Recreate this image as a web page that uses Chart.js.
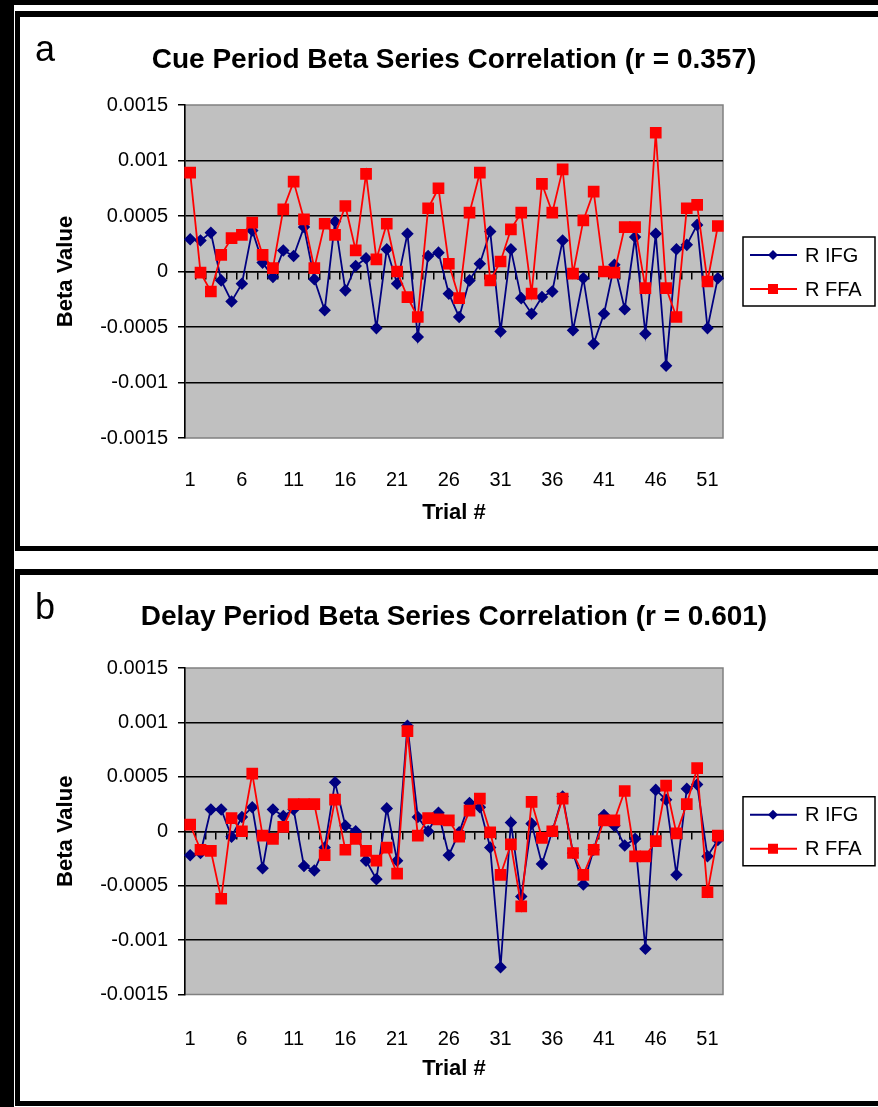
<!DOCTYPE html>
<html>
<head>
<meta charset="utf-8">
<title>Beta Series Correlation</title>
<script src="https://cdn.jsdelivr.net/npm/chart.js@4"></script>
<style>
  html, body { margin: 0; padding: 0; background: #fff; }
  body { width: 878px; height: 1107px; position: relative; overflow: hidden; font-family: "Liberation Sans", Arial, sans-serif; }
  .strip-left { position: absolute; left: 0; top: 0; width: 14px; height: 1107px; background: #000; }
  .strip-top { position: absolute; left: 0; top: 0; width: 878px; height: 5px; background: #000; }
  .panel { position: absolute; left: 15px; width: 1000px; border: 5px solid #000; border-top-width: 6px; background: #fff; }
  #panelA { top: 11px; height: 529px; }
  #panelB { top: 569px; height: 526px; }
  .panel canvas { position: absolute; left: 0; top: 0; }
  .tag { position: absolute; left: 15px; top: 14px; font-size: 36px; line-height: 36px; color: #000; }
</style>
</head>
<body>
<div class="strip-left"></div>
<div class="strip-top"></div>
<div class="panel" id="panelA">
  <canvas id="cueChart" width="858" height="529"></canvas>
  <div class="tag">a</div>
</div>
<div class="panel" id="panelB">
  <canvas id="delayChart" width="858" height="526"></canvas>
  <div class="tag">b</div>
</div>
<script>
const trials = ["1","2","3","4","5","6","7","8","9","10","11","12","13","14","15","16","17","18","19","20",
  "21","22","23","24","25","26","27","28","29","30","31","32","33","34","35","36","37","38","39","40",
  "41","42","43","44","45","46","47","48","49","50","51","52"];
const xTickLabels = ["1","6","11","16","21","26","31","36","41","46","51"];

// cue period betas
const cueIFG = [0.00029, 0.00028, 0.00035, -0.00008, -0.00027, -0.00011, 0.00037, 0.00008, -0.00005, 0.00019,
  0.00014, 0.00040, -0.00007, -0.00035, 0.00045, -0.00017, 0.00005, 0.00012, -0.00051, 0.00020,
  -0.00011, 0.00034, -0.00059, 0.00014, 0.00017, -0.00020, -0.00041, -0.00008, 0.00007, 0.00036,
  -0.00054, 0.00020, -0.00024, -0.00038, -0.00023, -0.00018, 0.00028, -0.00053, -0.00006, -0.00065,
  -0.00038, 0.00006, -0.00034, 0.00031, -0.00056, 0.00034, -0.00085, 0.00020, 0.00024, 0.00042,
  -0.00051, -0.00006];
const cueFFA = [0.00089, -0.00001, -0.00018, 0.00015, 0.00030, 0.00033, 0.00044, 0.00015, 0.00003, 0.00056,
  0.00081, 0.00047, 0.00003, 0.00043, 0.00033, 0.00059, 0.00019, 0.00088, 0.00011, 0.00043,
  0.00000, -0.00023, -0.00041, 0.00057, 0.00075, 0.00007, -0.00024, 0.00053, 0.00089, -0.00008,
  0.00009, 0.00038, 0.00053, -0.00020, 0.00079, 0.00053, 0.00092, -0.00002, 0.00046, 0.00072,
  0.00000, -0.00001, 0.00040, 0.00040, -0.00015, 0.00125, -0.00015, -0.00041, 0.00057, 0.00060,
  -0.00009, 0.00041];

// delay period betas
const delayIFG = [-0.00022, -0.00020, 0.00020, 0.00020, -0.00005, 0.00013, 0.00022, -0.00034, 0.00020, 0.00014,
  0.00020, -0.00032, -0.00036, -0.00015, 0.00045, 0.00005, 0.00000, -0.00027, -0.00044, 0.00021,
  -0.00027, 0.00097, 0.00013, 0.00000, 0.00017, -0.00022, -0.00001, 0.00026, 0.00022, -0.00015,
  -0.00125, 0.00008, -0.00060, 0.00007, -0.00030, 0.00000, 0.00032, -0.00020, -0.00049, -0.00017,
  0.00015, 0.00005, -0.00013, -0.00007, -0.00108, 0.00038, 0.00029, -0.00040, 0.00039, 0.00043,
  -0.00023, -0.00008];
const delayFFA = [0.00006, -0.00017, -0.00018, -0.00062, 0.00012, 0.00000, 0.00053, -0.00004, -0.00007, 0.00004,
  0.00025, 0.00025, 0.00025, -0.00022, 0.00029, -0.00017, -0.00007, -0.00018, -0.00027, -0.00015,
  -0.00039, 0.00092, -0.00004, 0.00012, 0.00011, 0.00010, -0.00005, 0.00019, 0.00030, -0.00001,
  -0.00040, -0.00012, -0.00069, 0.00027, -0.00006, 0.00000, 0.00030, -0.00020, -0.00040, -0.00017,
  0.00010, 0.00010, 0.00037, -0.00023, -0.00023, -0.00009, 0.00042, -0.00002, 0.00025, 0.00058,
  -0.00056, -0.00004];

const ifgColor = "#000080";
const ffaColor = "#ff0000";
const plotFill = "#c0c0c0";
const frameColor = "#808080";
const fontFamily = '"Liberation Sans", Arial, sans-serif';

Chart.defaults.font.family = fontFamily;
Chart.defaults.color = "#000";

// grey plot area with its thin frame
const plotFrame = {
  id: "plotFrame",
  beforeDraw(chart) {
    const { ctx, chartArea: a } = chart;
    ctx.save();
    ctx.fillStyle = plotFill;
    ctx.fillRect(a.left, a.top, a.width, a.height);
    ctx.strokeStyle = frameColor;
    ctx.lineWidth = 1.5;
    ctx.strokeRect(a.left, a.top, a.width, a.height);
    ctx.restore();
  }
};

// title centred over the plot, allowed to run wider than it
const panelTitle = {
  id: "panelTitle",
  afterDraw(chart, args, opts) {
    const { ctx, chartArea: a } = chart;
    ctx.save();
    ctx.fillStyle = "#000";
    ctx.font = "bold 28px " + fontFamily;
    ctx.textAlign = "center";
    ctx.textBaseline = "middle";
    ctx.fillText(opts.text, (a.left + a.right) / 2, a.top - opts.gap);
    ctx.restore();
  }
};

// boxed legend to the right of the plot, line + marker samples
const sideLegend = {
  id: "sideLegend",
  afterDraw(chart) {
    const { ctx, chartArea: a } = chart;
    const w = 132, h = 69;
    const x0 = a.right + 20;
    const y0 = (a.top + a.bottom) / 2 - h / 2;
    ctx.save();
    ctx.fillStyle = "#fff";
    ctx.fillRect(x0, y0, w, h);
    ctx.strokeStyle = "#000";
    ctx.lineWidth = 1.5;
    ctx.strokeRect(x0, y0, w, h);
    chart.data.datasets.forEach((ds, i) => {
      const y = y0 + 18 + i * 34;
      const mx = x0 + 30;
      ctx.strokeStyle = ds.borderColor;
      ctx.lineWidth = ds.borderWidth;
      ctx.beginPath();
      ctx.moveTo(x0 + 7, y);
      ctx.lineTo(x0 + 54, y);
      ctx.stroke();
      ctx.fillStyle = ds.borderColor;
      if (ds.pointStyle === "rectRot") {
        ctx.beginPath();
        ctx.moveTo(mx, y - 5);
        ctx.lineTo(mx + 5, y);
        ctx.lineTo(mx, y + 5);
        ctx.lineTo(mx - 5, y);
        ctx.closePath();
        ctx.fill();
      } else {
        ctx.fillRect(mx - 5, y - 5, 10, 10);
      }
      ctx.fillStyle = "#000";
      ctx.font = "20px " + fontFamily;
      ctx.textBaseline = "middle";
      ctx.fillText(ds.label, x0 + 62, y + 1);
    });
    ctx.restore();
  }
};

function isEdge(v) {
  return Math.abs(Math.abs(v) - 0.0015) < 1e-9;
}

function makePanel(canvasId, titleText, ifg, ffa, g) {
  return new Chart(document.getElementById(canvasId), {
    type: "line",
    data: {
      labels: trials,
      datasets: [
        {
          label: "R IFG", data: ifg, order: 2,
          borderColor: ifgColor, backgroundColor: ifgColor, borderWidth: 1.8,
          pointStyle: "rectRot", pointRadius: 5, pointHoverRadius: 5, tension: 0
        },
        {
          label: "R FFA", data: ffa, order: 1,
          borderColor: ffaColor, backgroundColor: ffaColor, borderWidth: 1.8,
          pointStyle: "rect", pointRadius: 7, pointHoverRadius: 7, tension: 0
        }
      ]
    },
    options: {
      responsive: false,
      animation: false,
      layout: { padding: { left: 0, right: 155, top: g.plotTop, bottom: 0 } },
      plugins: {
        legend: { display: false },
        tooltip: { enabled: false },
        title: { display: false },
        panelTitle: { text: titleText, gap: g.titleGap }
      },
      scales: {
        x: {
          type: "category", offset: true,
          grid: { display: false },
          border: { display: false },
          ticks: {
            autoSkip: false, maxRotation: 0, padding: g.xLabelPad, font: { size: 20 },
            callback: (v, i) => xTickLabels.includes(trials[i]) ? trials[i] : ""
          },
          title: {
            display: true, text: "Trial #", font: { size: 22, weight: "bold" },
            padding: { top: 0, bottom: g.xTitlePad }
          },
          afterFit: s => { s.height = g.xAxisHeight; }
        },
        // category axis line sitting on y = 0, ticks between trials
        zero: {
          type: "category", axis: "x", position: { y: 0 }, offset: true,
          ticks: { display: false },
          grid: { drawOnChartArea: false, drawTicks: true, tickLength: 7, offset: true, color: "#000", lineWidth: 1.5 },
          border: { display: true, color: "#000", width: 1.5 }
        },
        y: {
          min: -0.0015, max: 0.0015,
          ticks: {
            stepSize: 0.0005, padding: 10, font: { size: 20 },
            callback: v => String(Math.round(v * 10000) / 10000)
          },
          grid: {
            color: c => (c.tick && isEdge(c.tick.value)) ? "rgba(0,0,0,0)" : "#000",
            tickColor: "#000", tickLength: 7, lineWidth: 1.5
          },
          border: { color: "#000", width: 1.5 },
          title: {
            display: true, text: "Beta Value", font: { size: 22, weight: "bold" },
            padding: { top: 33, bottom: 0 }
          },
          afterFit: s => { s.width = 165; }
        }
      }
    },
    plugins: [plotFrame, panelTitle, sideLegend]
  });
}

makePanel("cueChart", "Cue Period Beta Series Correlation (r = 0.357)", cueIFG, cueFFA,
  { plotTop: 88, titleGap: 45, xLabelPad: 22, xTitlePad: 20, xAxisHeight: 108 });
makePanel("delayChart", "Delay Period Beta Series Correlation (r = 0.601)", delayIFG, delayFFA,
  { plotTop: 93, titleGap: 51, xLabelPad: 25, xTitlePad: 19, xAxisHeight: 106.5 });
</script>
</body>
</html>
